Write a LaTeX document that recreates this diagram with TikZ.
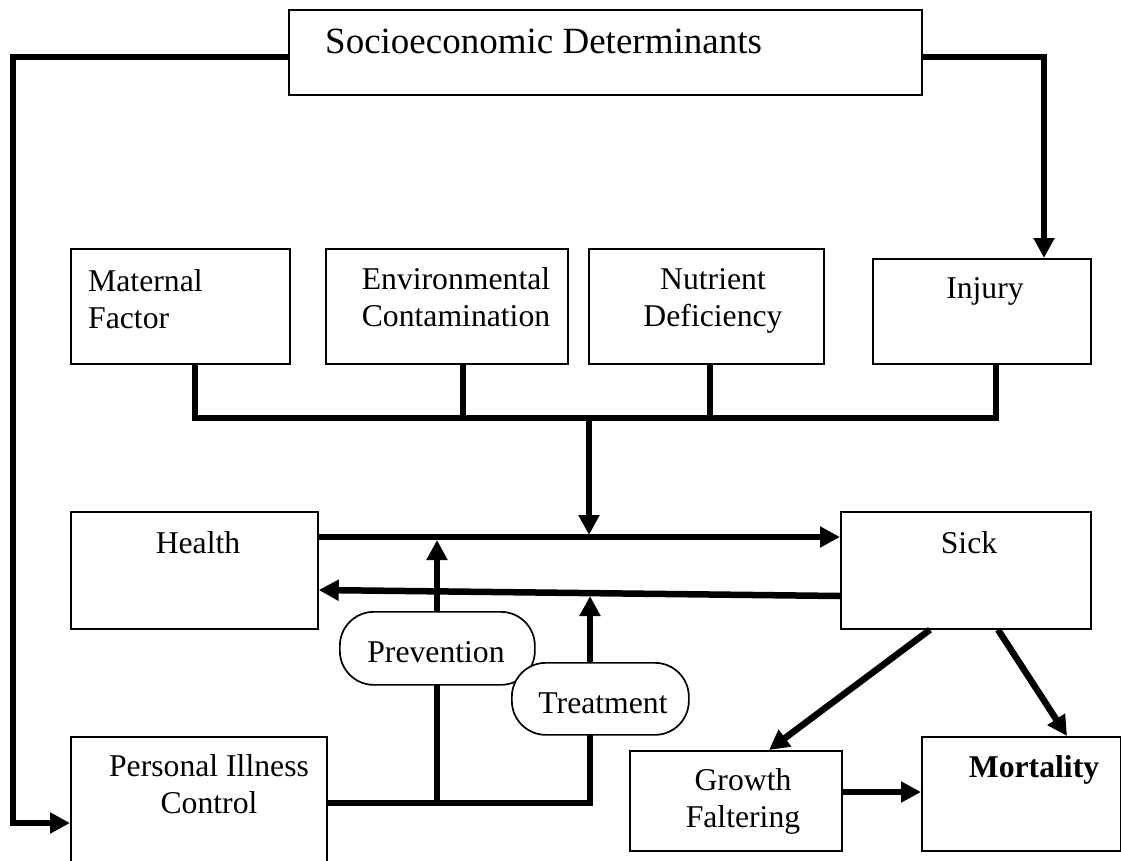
\documentclass[tikz,border=0pt]{standalone}
\usepackage{fontspec}
\setmainfont{Liberation Serif}
\usetikzlibrary{arrows.meta,calc}
\tikzset{
  box/.style={draw, line width=1.7pt, fill=white, inner sep=0pt, anchor=north west},
  pill/.style={draw, line width=1.7pt, fill=white, rounded corners=34pt, inner sep=0pt, anchor=north west},
  txt/.style={font=\fontsize{31.7}{37}\selectfont, inner sep=0pt, align=center},
  conn/.style={line width=6.5pt},
  arr/.style={-{Triangle[length=20pt,width=20pt]}},
}
\begin{document}
\begin{tikzpicture}[x=1pt,y=-1pt]
\useasboundingbox (0,0) rectangle (1121,861);
\clip (0,0) rectangle (1121,861);
% boxes
\node[box, minimum width=633pt, minimum height=85pt] (soc) at (288,9) {};
\node[box, minimum width=219pt, minimum height=115pt] (mat) at (70,248) {};
\node[box, minimum width=242pt, minimum height=115pt] (env) at (325,248) {};
\node[box, minimum width=235pt, minimum height=115pt] (nut) at (588,248) {};
\node[box, minimum width=218pt, minimum height=105pt] (inj) at (872,258) {};
\node[box, minimum width=247pt, minimum height=117pt] (hea) at (70,511) {};
\node[box, minimum width=250pt, minimum height=117pt] (sick) at (840,511) {};
\node[box, minimum width=256pt, minimum height=160pt] (pers) at (70,736) {};
\node[box, minimum width=212pt, minimum height=100pt] (grow) at (629,750) {};
\node[box, minimum width=199pt, minimum height=114pt] (mort) at (921,736) {};
% texts (anchor base = baseline of the last line)
\node[txt, font=\fontsize{37}{42}\selectfont, anchor=base west] (soct) at (325,54) {Socioeconomic Determinants};
\node[txt, align=left, anchor=base west] (matt) at (88,328) {Maternal\\Factor};
\node[txt, anchor=base] (envt) at (456,326) {Environmental\\Contamination};
\node[txt, anchor=base] (nutt) at (713,326) {Nutrient\\Deficiency};
\node[txt, anchor=base] (injt) at (985,298) {Injury};
\node[txt, anchor=base] (heat) at (198,553) {Health};
\node[txt, anchor=base] (sickt) at (969,553) {Sick};
\node[txt, anchor=base] (perst) at (209,813) {Personal Illness\\Control};
\node[txt, anchor=base] (growt) at (743,827) {Growth\\Faltering};
\node[txt, anchor=base] (mortt) at (1034,777) {\bfseries Mortality};
% socioeconomic connectors
\draw[conn, arr] (soc.west |- 0,57) -- (13,57) -- (13,823) -- (pers.west |- 0,823);
\draw[conn, arr] (soc.east |- 0,57) -- (1044,57) -- (inj.north -| 1044,0);
% bus
\coordinate (busc) at (589,418);
\draw[conn] (mat.south -| 195,0) -- (195,418) -- (996,418) -- (inj.south -| 996,0);
\draw[conn] (env.south -| 463,0) -- (463,418);
\draw[conn] (nut.south -| 710,0) -- (710,418);
\draw[conn, arr] (busc) -- (589,535);
% health / sick
\draw[conn, arr] (hea.east |- 0,537) -- (sick.west |- 0,537);
\draw[conn, arr] (sick.west |- 0,596) -- (hea.east |- 0,590);
% prevention / treatment
\draw[conn] (pers.east |- 0,803) -- (590,803) -- (590,730);
\draw[conn] (437,803) -- (437,680);
\draw[conn, arr] (437,615) -- (437,540);
\draw[conn, arr] (590,666) -- (590,596);
\node[pill, minimum width=195pt, minimum height=73pt] (prev) at (339,611) {};
\node[txt, anchor=base] (prevt) at (436,662) {Prevention};
\node[pill, minimum width=177pt, minimum height=72pt] (treat) at (511,662) {};
\node[txt, anchor=base] (treatt) at (603,713) {Treatment};
% outcomes
\draw[conn, arr] (sick.south -| 930,0) -- (grow.north -| 769,0);
\draw[conn, arr] (sick.south -| 998,0) -- (mort.north -| 1067,0);
\draw[conn, arr] (grow.east |- 0,792) -- (mort.west |- 0,792);
\end{tikzpicture}
\end{document}
